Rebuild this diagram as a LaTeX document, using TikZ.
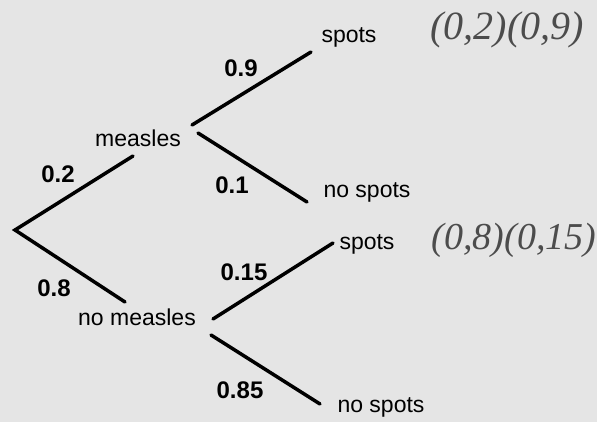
\documentclass[tikz,border=0pt]{standalone}
\usepackage{fontspec}
\setmainfont{Liberation Sans}
\newfontfamily\handfont{Liberation Serif}
\begin{document}
\begin{tikzpicture}[x=1pt,y=-1pt,
  branch/.style={line width=3.5pt,line cap=round},
  outcome/.style={inner sep=0pt,anchor=base,font=\fontsize{23}{27}\selectfont},
  prob/.style={inner sep=0pt,anchor=base,font=\fontsize{24}{28}\selectfont\bfseries},
  hand/.style={inner sep=0pt,text=black!70,font=\handfont\itshape\fontsize{40}{44}\selectfont}]
\fill[black!10] (0,0) rectangle (597,422);
\useasboundingbox (0,0) rectangle (597,422);
% branch end points
\coordinate (root) at (15,230);
\coordinate (mIn) at (133,156);
\coordinate (nmIn) at (125,302);
\coordinate (mUpA) at (192,125);
\coordinate (mUpB) at (311,52);
\coordinate (mDnA) at (198,133);
\coordinate (mDnB) at (307,202);
\coordinate (nmUpA) at (213,319);
\coordinate (nmUpB) at (333,243);
\coordinate (nmDnA) at (211,335);
\coordinate (nmDnB) at (320,404);
% branches
\draw[branch] (mIn) -- (root) -- (nmIn);
\draw[branch] (mUpA) -- (mUpB);
\draw[branch] (mDnA) -- (mDnB);
\draw[branch] (nmUpA) -- (nmUpB);
\draw[branch] (nmDnA) -- (nmDnB);
% outcomes
\node[outcome] (measles) at (138,147) {measles};
\node[outcome] (nomeasles) at (137,325) {no measles};
\node[outcome] (spots1) at (349,43) {spots};
\node[outcome] (nospots1) at (367,198) {no spots};
\node[outcome] (spots2) at (367,249) {spots};
\node[outcome] (nospots2) at (381,412) {no spots};
% probabilities
\node[prob] (p02) at (58,183) {0.2};
\node[prob] (p08) at (54,296) {0.8};
\node[prob] (p09) at (241,77) {0.9};
\node[prob] (p01) at (232,194) {0.1};
\node[prob] (p015) at (244,280) {0.15};
\node[prob] (p085) at (240,398) {0.85};
% handwritten notes
\node[hand] (note1) at (507,30) {(0,2)(0,9)};
\node[hand,font=\handfont\itshape\fontsize{38}{42}\selectfont] (note2) at (514,240) {(0,8)(0,15)};
\end{tikzpicture}
\end{document}
